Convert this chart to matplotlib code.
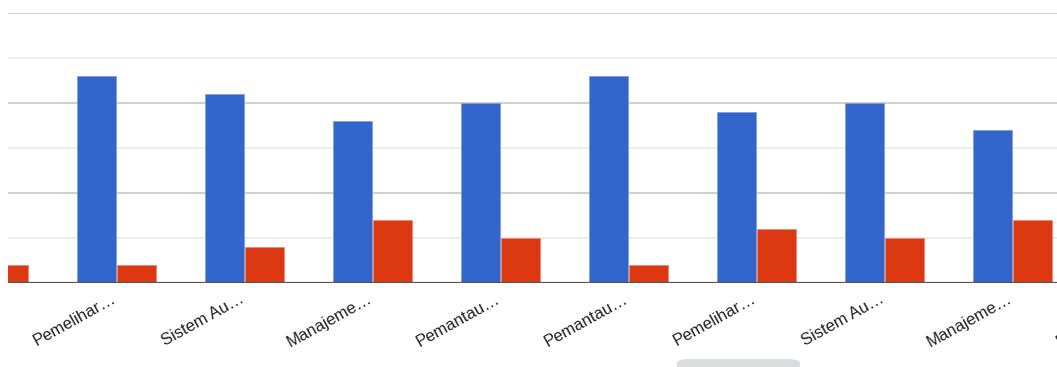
import numpy as np
import matplotlib.pyplot as plt
from matplotlib.patches import FancyBboxPatch
from matplotlib.transforms import blended_transform_factory

plt.rcParams['font.family'] = ['Liberation Sans', 'DejaVu Sans']

# categorias (a janela mostra so parte do grafico rolavel)
labels = ['Sistem Au…', 'Pemelihar…', 'Sistem Au…', 'Manajeme…', 'Pemantau…',
          'Pemantau…', 'Pemelihar…', 'Sistem Au…', 'Manajeme…', 'Pemantau…']
azul = [21, 23, 21, 18, 20, 23, 19, 20, 17, 20]
vermelho = [2, 2, 4, 7, 5, 2, 6, 5, 7, 5]

W, H = 1057, 367
fig = plt.figure(figsize=(W / 100, H / 100), dpi=100)

# area do grafico em pixels: x de 8 ate a borda, y de 13 ate 283
ax = fig.add_axes([8 / W, 1 - 283 / H, 1 - 8 / W, 270 / H])

x = np.arange(len(labels))
larg = 0.30
ax.bar(x - 0.152, azul, larg, color='#3366cc', edgecolor='#7fa0e0', linewidth=0.6, zorder=3)
ax.bar(x + 0.160, vermelho, larg, color='#dc3912', edgecolor='#ee8a72', linewidth=0.6, zorder=3)

ax.set_ylim(0, 30)
ax.set_xlim((8 - 116) / 128 + 1, (W - 116) / 128 + 1)

# linhas de grade: fortes a cada 10, fracas a cada 5
for v in range(5, 31, 5):
    cor = '#cccccc' if v % 10 == 0 else '#ebebeb'
    ax.axhline(v, color=cor, linewidth=1.3, zorder=1)
ax.axhline(0, color='#555555', linewidth=1.6, zorder=4)

for s in ax.spines.values():
    s.set_visible(False)
ax.set_xticks([])
ax.set_yticks([])

# rotulos inclinados abaixo do eixo
trans = blended_transform_factory(ax.transData, ax.transAxes)
for xi, lab in zip(x, labels):
    ax.text(xi + 0.01, -0.07, lab, transform=trans, rotation=29,
            rotation_mode='anchor', ha='right', va='baseline',
            fontsize=12, color='#222222', clip_on=False)

# barra de rolagem
fig.patches.append(FancyBboxPatch((677 / W, -4 / H), 123 / W, 12 / H,
                                  boxstyle='round,pad=0,rounding_size=0.012',
                                  transform=fig.transFigure, facecolor='#dadce0',
                                  edgecolor='none'))

fig.savefig('out.png', dpi=100)
